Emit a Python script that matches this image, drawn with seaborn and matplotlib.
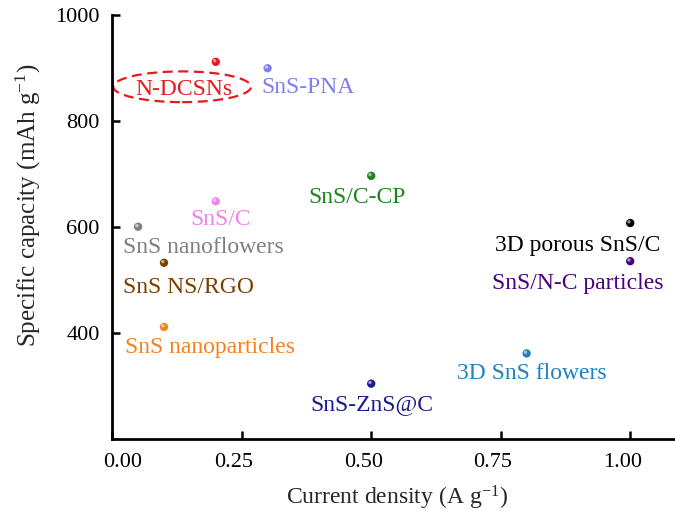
import numpy as np
import pandas as pd
import matplotlib
matplotlib.use("Agg")
import matplotlib.pyplot as plt
from matplotlib.patches import Ellipse
from matplotlib.transforms import ScaledTranslation
import seaborn as sns

# Rate performance of SnS-based anodes
materials = ["N-DCSNs", "SnS-PNA", "SnS/C", "SnS nanoflowers", "SnS NS/RGO",
             "SnS nanoparticles", "SnS/C-CP", "3D porous SnS/C",
             "SnS/N-C particles", "3D SnS flowers", "SnS-ZnS@C"]
current_density = [0.2, 0.3, 0.2, 0.05, 0.1, 0.1, 0.5, 1.0, 1.0, 0.8, 0.5]
capacity = [912, 900, 649, 601, 533, 412, 697, 608, 536, 362, 305]
colors = ["#E8191C", "#7F7FEF", "#EE82EE", "#808080", "#7B3F00", "#F58220",
          "#1E821E", "#000000", "#4B0082", "#1F82BE", "#1B1B8C"]
x_ticks = [0.00, 0.25, 0.50, 0.75, 1.00]
y_ticks = [400, 600, 800, 1000]

# label placement relative to each point (pixels: dx, dy)
label_offsets = [(-32, -33), (40, -25), (5, -24), (65, -26), (25, -30),
                 (46, -26), (-14, -27), (-53, -28), (-52, -28), (5, -26),
                 (1, -26)]

sns.set_style("ticks")
plt.rcParams["font.family"] = ["Liberation Serif", "DejaVu Serif"]
plt.rcParams["mathtext.fontset"] = "custom"
plt.rcParams["mathtext.rm"] = "Liberation Serif"

df = pd.DataFrame({"material": materials, "current": current_density,
                   "capacity": capacity})
palette = dict(zip(materials, colors))

fig = plt.figure(figsize=(6.75, 5.11), dpi=100)
ax = fig.add_axes([112.2 / 675, 1 - 439.3 / 511, (1.1 * 518) / 675,
                   (439.3 - 15.2) / 511])

sns.scatterplot(data=df, x="current", y="capacity", hue="material",
                palette=palette, s=36, edgecolor="none", legend=False,
                ax=ax, zorder=3)
# small highlight on each ball
ax.scatter(df["current"], df["capacity"], s=6, color="white", alpha=0.55,
           edgecolor="none", zorder=4,
           transform=ax.transData + ScaledTranslation(-1.2 / 100, 1.2 / 100,
                                                      fig.dpi_scale_trans))

for name, xv, yv, c, (dx, dy) in zip(materials, current_density, capacity,
                                     colors, label_offsets):
    ax.annotate(name, (xv, yv), xytext=(dx, dy), textcoords="offset pixels",
                ha="center", va="baseline", color=c, fontsize=17)

ell = Ellipse((0.135, 865), width=0.266, height=58, fill=False,
              edgecolor="#E8191C", linestyle=(0, (4.5, 2.5)), linewidth=1.6,
              clip_on=False, zorder=2)
ax.add_patch(ell)

ax.set_xlim(0, 1.1)
ax.set_ylim(200, 1000)
ax.set_xticks(x_ticks)
ax.set_xticklabels([f"{t:.2f}" for t in x_ticks])
ax.set_yticks(y_ticks)
ax.set_yticklabels([str(t) for t in y_ticks])

for side in ["top", "right"]:
    ax.spines[side].set_visible(False)
for side in ["left", "bottom"]:
    ax.spines[side].set_linewidth(2)
    ax.spines[side].set_color("black")
ax.tick_params(direction="in", length=6, width=1.8, labelsize=16,
               colors="black")
ax.tick_params(axis="x", pad=10)
ax.tick_params(axis="y", pad=9)

# nudge x tick labels horizontally
shifts = [10, -8, -8, -8, -8]
for lab, sh in zip(ax.get_xticklabels(), shifts):
    lab.set_transform(lab.get_transform() +
                      ScaledTranslation(sh / 100, 0, fig.dpi_scale_trans))

ax.set_xlabel(r"Current density (A g$\mathregular{^{-1}}$)", fontsize=17,
              labelpad=8)
ax.set_ylabel(r"Specific capacity (mAh g$\mathregular{^{-1}}$)", fontsize=18)
ax.yaxis.set_label_coords(-0.122, 0.552)

fig.savefig("out.png", dpi=100)
